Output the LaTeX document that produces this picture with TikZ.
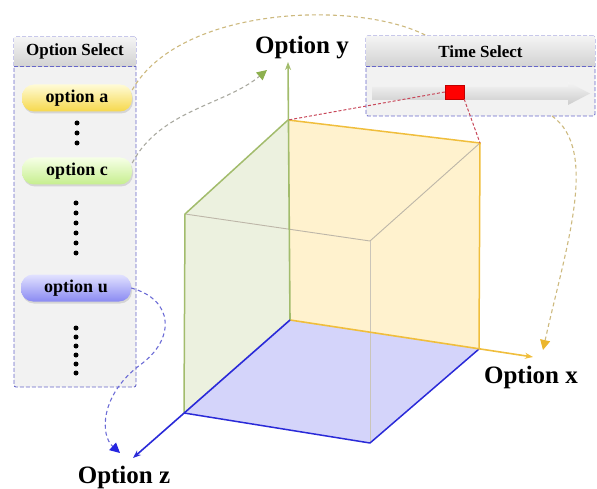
\documentclass[tikz,border=0pt]{standalone}
\usepackage{fontspec}
\setmainfont{Liberation Serif}
\usetikzlibrary{arrows.meta,shadows}

\definecolor{panelfill}{HTML}{F2F2F2}
\definecolor{paneledge}{HTML}{6666C8}
\definecolor{headtop}{HTML}{F4F4F4}
\definecolor{headbot}{HTML}{D2D2D2}
\definecolor{yellowtop}{HTML}{FFFBD6}
\definecolor{yellowbot}{HTML}{F6D84C}
\definecolor{greentop}{HTML}{F6FFE6}
\definecolor{greenbot}{HTML}{C6EE8E}
\definecolor{bluetop}{HTML}{E2E2FF}
\definecolor{bluebot}{HTML}{8A8AF2}
\definecolor{greenface}{HTML}{ECF1DF}
\definecolor{yellowface}{HTML}{FFF2CE}
\definecolor{blueface}{HTML}{D4D4FA}
\definecolor{greenedge}{HTML}{A2BC6C}
\definecolor{goldedge}{HTML}{F0BE3C}
\definecolor{blueedge}{HTML}{2A2AD8}
\definecolor{frontedge}{HTML}{BDB6A8}
\definecolor{tanlink}{HTML}{CDB97E}
\definecolor{graylink}{HTML}{A9A9A0}
\definecolor{bluelink}{HTML}{6C6CD6}
\definecolor{redlink}{HTML}{C8485A}
\definecolor{goldtip}{HTML}{EBB62E}
\definecolor{greentip}{HTML}{8DB04E}
\definecolor{bluetip}{HTML}{2525E0}

\begin{document}
\begin{tikzpicture}[x=1pt,y=-1pt,
  panel/.style={draw=paneledge, fill=panelfill, dash pattern=on 4pt off 2pt, line width=0.9pt, rounded corners=2pt, inner sep=0pt},
  header/.style={top color=headtop, bottom color=headbot, inner sep=0pt, font=\fontsize{17}{20}\selectfont\bfseries},
  pill/.style={rounded corners=12pt, minimum width=110pt, minimum height=27pt, inner sep=0pt,
    font=\fontsize{18}{20}\selectfont\bfseries, drop shadow={opacity=0.25, shadow xshift=1pt, shadow yshift=-2pt}},
  axislabel/.style={font=\fontsize{25}{28}\selectfont\bfseries},
  axis/.style={line width=1.6pt, -{Stealth[length=8pt,width=6pt]}},
  faceedge/.style={line width=1.5pt, line join=round},
  link/.style={dash pattern=on 4pt off 3pt, line width=1.1pt},
  reddash/.style={draw=redlink, dash pattern=on 3pt off 2pt, line width=1pt},
]
\useasboundingbox (0,0) rectangle (597,489);

% option panel
\node[panel, minimum width=122pt, minimum height=350pt] (selpanel) at (75,212) {};
\node[header, minimum width=121pt, minimum height=29pt, anchor=north] (selhead) at ([yshift=-0.5pt]selpanel.north) {Option Select};
\draw[draw=paneledge, dash pattern=on 4pt off 2pt, line width=0.9pt] (selhead.south west) -- (selhead.south east);

\node[pill, top color=yellowtop, bottom color=yellowbot] (optA) at (77,98) {option a};
\node[pill, top color=greentop, bottom color=greenbot] (optC) at (77,171) {option c};
\node[pill, top color=bluetop, bottom color=bluebot] (optU) at (76,288) {option u};

\foreach \y in {123,133,143} \fill (77,\y) circle (2.5pt);
\foreach \y in {203,213,...,253} \fill (76,\y) circle (2.5pt);
\foreach \y in {328,337,...,373} \fill (76,\y) circle (2.5pt);

% time panel
\node[panel, minimum width=229pt, minimum height=80pt] (timepanel) at (480.5,76) {};
\node[header, minimum width=228pt, minimum height=30pt, anchor=north] (timehead) at ([yshift=-0.5pt]timepanel.north) {Time Select};
\draw[draw=paneledge, dash pattern=on 4pt off 2pt, line width=0.9pt] (timehead.south west) -- (timehead.south east);
\shade[top color=gray!8, bottom color=gray!40] (372,87) -- (568,87) -- (568,82) -- (590,93.5) -- (568,105) -- (568,100) -- (372,100) -- cycle;
\node[draw=red!75!black, fill=red, minimum width=19pt, minimum height=14pt, inner sep=0pt] (slider) at (454.5,92) {};

% cube
\coordinate (O) at (290,320);
\coordinate (X) at (479,349);
\coordinate (Y) at (288,120);
\coordinate (Z) at (184,413);
\coordinate (XY) at (480,143);
\coordinate (YZ) at (185,214);
\coordinate (XZ) at (370,443);
\coordinate (XYZ) at (370,241);

\fill[yellowface] (O) -- (X) -- (XY) -- (Y) -- cycle;
\fill[greenface] (O) -- (Y) -- (YZ) -- (Z) -- cycle;
\fill[blueface] (O) -- (X) -- (XZ) -- (Z) -- cycle;

\draw[frontedge, line width=0.9pt] (YZ) -- (XYZ);
\draw[frontedge, line width=0.9pt] (XY) -- (XYZ);
\draw[frontedge!80!white, line width=0.9pt] (XYZ) -- (XZ);

\draw[faceedge, greenedge] (Y) -- (YZ) -- (Z);
\draw[faceedge, goldedge] (Y) -- (XY) -- (X);
\draw[faceedge, blueedge] (X) -- (XZ) -- (Z);

\coordinate (xend) at (533,357);
\coordinate (yend) at (288,62);
\coordinate (zend) at (133,458);
\draw[axis, goldedge] (O) -- (xend);
\draw[axis, greenedge] (O) -- (yend);
\draw[axis, blueedge] (O) -- (zend);

\node[axislabel] (labely) at (302,48) {Option y};
\node[axislabel] (labelx) at (531,377) {Option x};
\node[axislabel] (labelz) at (124,477) {Option z};

% links
\draw[reddash] (slider.west) -- (Y);
\draw[reddash] (slider.south east) -- (XY);

\coordinate (tin) at (427,36);
\coordinate (tout) at (552,116);
\coordinate (xtarget) at (543,350);
\coordinate (ytarget) at (267,70);
\coordinate (ztarget) at (120,453);

\draw[link, tanlink] ([yshift=8pt]optA.east) .. controls (180,5) and (360,0) .. (tin);
\draw[link, tanlink, -{Triangle[length=10pt,width=10pt,color=goldtip]}] (tout) .. controls (600,150) and (565,250) .. (xtarget);
\draw[link, graylink, -{Triangle[length=10pt,width=10pt,color=greentip]}] ([yshift=8pt]optC.east) .. controls (160,110) and (225,105) .. (ytarget);
\draw[link, bluelink, -{Triangle[length=10pt,width=10pt,color=bluetip]}] (optU.east) .. controls (175,300) and (175,340) .. (140,365) .. controls (100,395) and (100,435) .. (ztarget);

\end{tikzpicture}
\end{document}
